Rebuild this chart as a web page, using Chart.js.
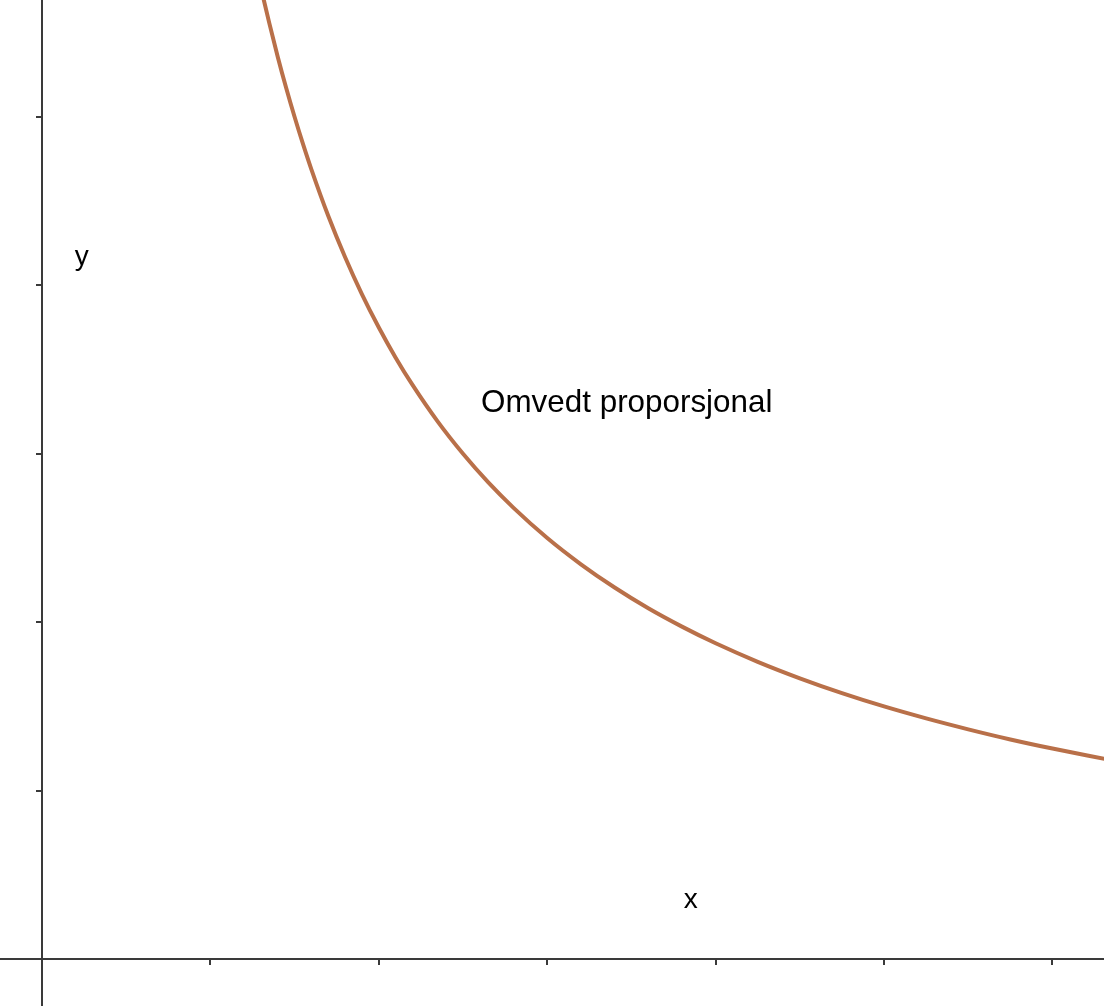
<!DOCTYPE html>
<html>
<head>
<meta charset="utf-8">
<script src="https://cdn.jsdelivr.net/npm/chart.js@4"></script>
<style>
html,body{margin:0;padding:0;background:#fff;overflow:hidden}
#wrap{width:1104px;height:1006px;position:relative}
</style>
</head>
<body>
<div id="wrap"><canvas id="c"></canvas></div>
<script>
// values (x, y in axis units)
const xValues = [1.31, 1.35, 1.4, 1.45, 1.5, 1.55, 1.6, 1.7, 1.8, 1.9, 2.0, 2.1, 2.2, 2.35, 2.5, 2.65, 2.8, 3.0, 3.2, 3.4, 3.6, 3.8, 4.0, 4.25, 4.5, 4.75, 5.0, 5.25, 5.5, 5.75, 6.0, 6.31];
const yValues = [5.725, 5.556, 5.357, 5.172, 5.000, 4.839, 4.688, 4.412, 4.167, 3.947, 3.750, 3.571, 3.409, 3.191, 3.000, 2.830, 2.679, 2.500, 2.344, 2.206, 2.083, 1.974, 1.875, 1.765, 1.667, 1.579, 1.500, 1.429, 1.364, 1.304, 1.250, 1.189];
const xTicks = [1, 2, 3, 4, 5, 6];
const yTicks = [1, 2, 3, 4, 5];
const seriesLabel = "Omvedt proporsjonal";
const xAxisLabel = "x";
const yAxisLabel = "y";

const points = xValues.map((x, i) => ({x: x, y: yValues[i]}));

const axesPlugin = {
  id: 'axesPlugin',
  beforeDatasetsDraw(chart) {
    const ctx = chart.ctx;
    const xs = chart.scales.x, ys = chart.scales.y;
    const ox = xs.getPixelForValue(0), oy = ys.getPixelForValue(0);
    ctx.save();
    ctx.strokeStyle = '#3a3a3a';
    ctx.lineWidth = 2;
    ctx.beginPath();
    ctx.moveTo(0, oy); ctx.lineTo(chart.width, oy);
    ctx.moveTo(ox, 0); ctx.lineTo(ox, chart.height);
    ctx.stroke();
    ctx.beginPath();
    xTicks.forEach(v => { const p = Math.round(xs.getPixelForValue(v)); ctx.moveTo(p, oy); ctx.lineTo(p, oy + 6); });
    yTicks.forEach(v => { const p = Math.round(ys.getPixelForValue(v)); ctx.moveTo(ox - 6, p); ctx.lineTo(ox, p); });
    ctx.stroke();
    ctx.restore();
  },
  afterDatasetsDraw(chart) {
    const ctx = chart.ctx;
    const xs = chart.scales.x, ys = chart.scales.y;
    ctx.save();
    ctx.fillStyle = '#000';
    ctx.textBaseline = 'alphabetic';
    ctx.textAlign = 'left';
    ctx.font = '31.4px "Liberation Sans", Arial, sans-serif';
    ctx.fillText(seriesLabel, xs.getPixelForValue(2.607), ys.getPixelForValue(3.25));
    ctx.font = '28px "Liberation Sans", Arial, sans-serif';
    ctx.fillText(yAxisLabel, xs.getPixelForValue(0.195), ys.getPixelForValue(4.12));
    ctx.fillText(xAxisLabel, xs.getPixelForValue(3.81), ys.getPixelForValue(0.3));
    ctx.restore();
  }
};

new Chart(document.getElementById('c'), {
  type: 'line',
  data: {
    datasets: [{
      label: seriesLabel,
      data: points,
      borderColor: '#b97049',
      borderWidth: 4,
      pointRadius: 0,
      fill: false,
      cubicInterpolationMode: 'monotone'
    }]
  },
  options: {
    responsive: true,
    maintainAspectRatio: false,
    animation: false,
    layout: {padding: 0},
    plugins: {legend: {display: false}, tooltip: {enabled: false}},
    scales: {
      x: {type: 'linear', min: -0.2494, max: 6.306, display: false},
      y: {type: 'linear', min: -0.279, max: 5.695, display: false}
    }
  },
  plugins: [axesPlugin]
});
</script>
</body>
</html>
